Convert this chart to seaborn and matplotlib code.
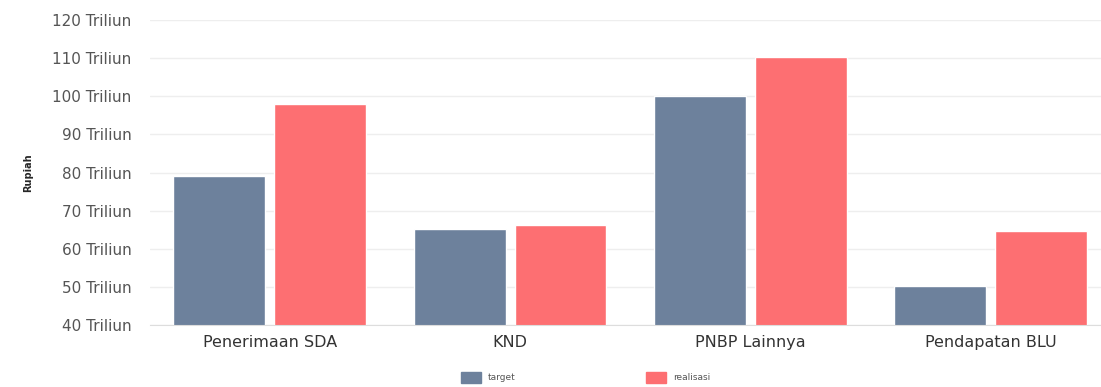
import pandas as pd
import matplotlib.pyplot as plt
import seaborn as sns

kategori = ['Penerimaan SDA', 'KND', 'PNBP Lainnya', 'Pendapatan BLU']
target = [79.1, 65.2, 100.1, 50.2]
realisasi = [98.0, 66.2, 110.3, 64.7]

df = pd.DataFrame({
    'kategori': kategori * 2,
    'seri': ['target'] * 4 + ['realisasi'] * 4,
    'nilai': target + realisasi,
})

sns.set_style('white')
plt.rcParams['font.family'] = ['DejaVu Sans']

fig = plt.figure(figsize=(11.01, 3.87), dpi=100)
ax = fig.add_axes([0.136, 0.160, 0.864, 0.788])

sns.barplot(data=df, x='kategori', y='nilai', hue='seri',
            palette={'target': '#6d819c', 'realisasi': '#fd6f72'},
            width=0.84, gap=0.09, ax=ax, legend=False, saturation=1)

ax.set_ylim(40, 120)
ax.set_xlim(-0.5, 3.46)
ax.set_yticks(range(40, 121, 10))
ax.set_yticklabels([f'{v} Triliun' for v in range(40, 121, 10)],
                   fontsize=11, color='#555555')
ax.tick_params(axis='x', labelsize=11.5, colors='#333333', length=0, pad=7)
ax.tick_params(axis='y', length=0, pad=13)
ax.yaxis.grid(True, color='#eeeeee', linewidth=1)
ax.set_axisbelow(True)
for s in ['top', 'right', 'left']:
    ax.spines[s].set_visible(False)
ax.spines['bottom'].set_color('#dddddd')
ax.set_xlabel('')
ax.set_ylabel('Rupiah', fontsize=7, fontweight='bold', labelpad=14)

handles = [plt.Rectangle((0, 0), 1, 1, color='#6d819c'),
           plt.Rectangle((0, 0), 1, 1, color='#fd6f72')]
fig.legend(handles, ['target', 'realisasi'], loc='center',
           bbox_to_anchor=(0.532, 0.025), ncol=2, frameon=False,
           fontsize=6.5, handlelength=2.2, handleheight=1.4,
           columnspacing=14.5, labelcolor='#555555')

fig.savefig('out.png', dpi=100)
